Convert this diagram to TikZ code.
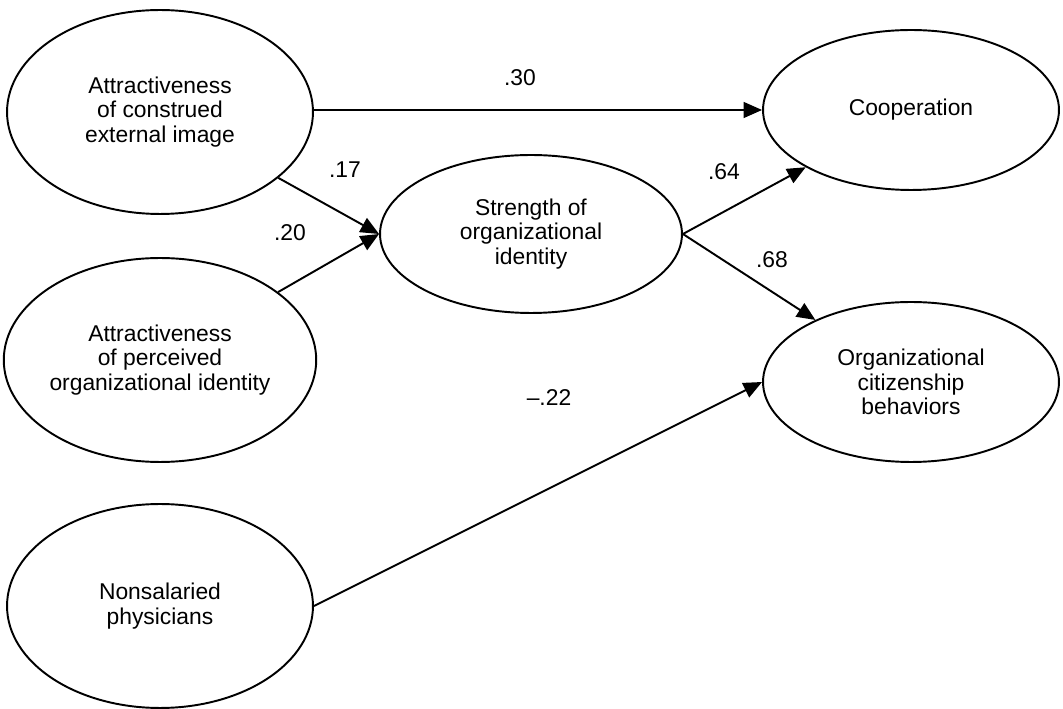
\documentclass[tikz,border=0pt]{standalone}
\usepackage{fontspec}
\setmainfont{Liberation Sans}
\usetikzlibrary{arrows.meta,shapes.geometric}
\tikzset{
  construct/.style={
    ellipse,
    draw=black,
    line width=1.1pt,
    inner sep=0pt,
    align=center,
    font=\fontsize{13}{13.8}\selectfont
  },
  exogenous/.style={construct,minimum width=6.12cm,minimum height=4.08cm},
  mediator/.style={construct,minimum width=6.04cm,minimum height=3.16cm},
  outcome/.style={construct,minimum width=5.92cm,minimum height=3.2cm},
  effect/.style={-{Triangle[length=10.5pt,width=9pt]},draw=black,line width=1.1pt},
  coef/.style={font=\fontsize{13}{14}\selectfont}
}

\begin{document}
\begin{tikzpicture}[x=0.02cm,y=-0.02cm]
  \useasboundingbox (0,0) rectangle (1063,709);
  % constructs
  \node[exogenous] (image) at (160,112) {Attractiveness\\of construed\\external image};
  \node[exogenous] (perceived) at (160,360) {Attractiveness\\of perceived\\organizational identity};
  \node[exogenous] (nonsalaried) at (160,606) {Nonsalaried\\physicians};
  \node[mediator] (strength) at (531,234) {Strength of\\organizational\\identity};
  \node[outcome] (cooperation) at (911,110) {Cooperation};
  \node[outcome] (citizenship) at (911,382) {Organizational\\citizenship\\behaviors};
  % paths
  \draw[effect] (image.east |- cooperation.west) -- (cooperation.west);
  \draw[effect] (image) -- (strength.west);
  \draw[effect] (perceived) -- (strength.west);
  \draw[effect] (strength.east) -- (cooperation);
  \draw[effect] (strength.east) -- (citizenship);
  \draw[effect] (nonsalaried.east) -- (citizenship.west);
  % coefficients
  \node[coef] (c30) at (520,78) {.30};
  \node[coef] (c17) at (345,170) {.17};
  \node[coef] (c20) at (290,233) {.20};
  \node[coef] (c64) at (724,172) {.64};
  \node[coef] (c68) at (772,260) {.68};
  \node[coef] (c22) at (549,398) {--.22};
\end{tikzpicture}
\end{document}
